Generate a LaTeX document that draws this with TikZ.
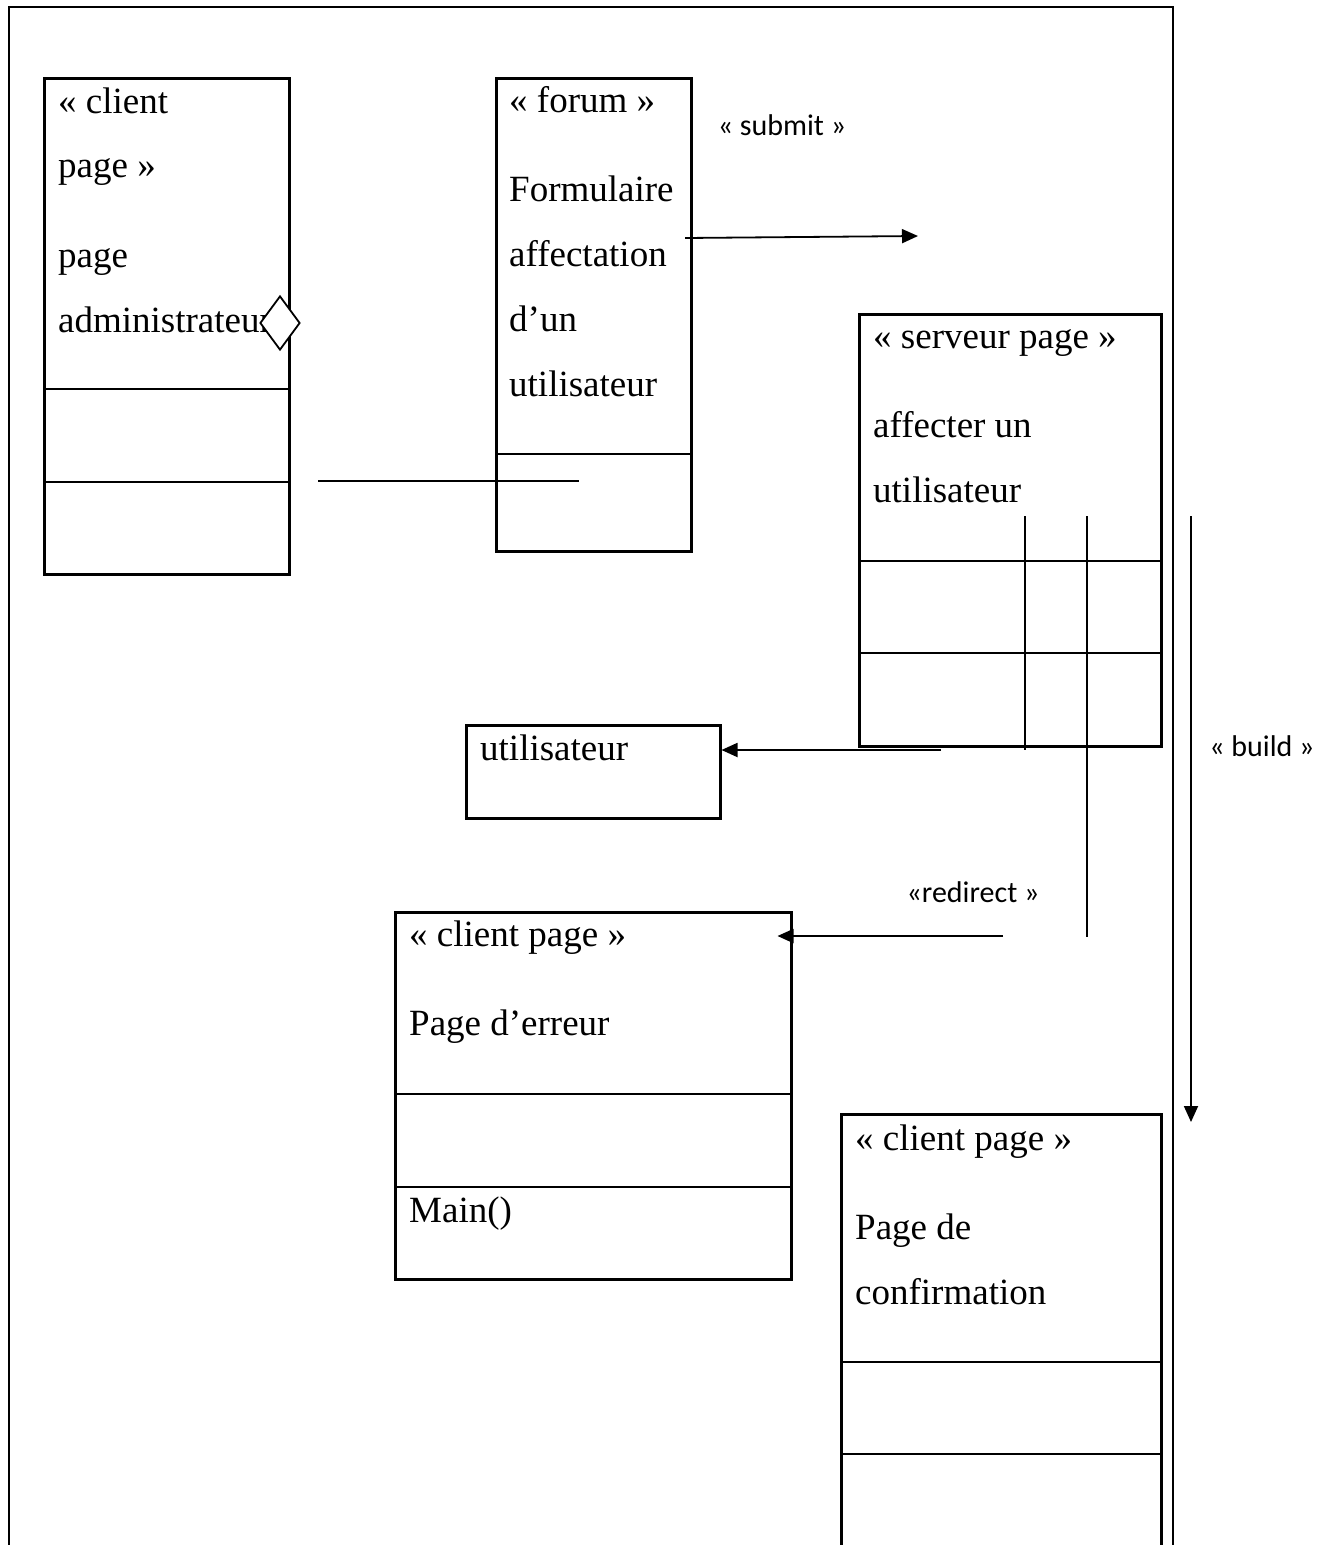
\documentclass[tikz,border=0pt]{standalone}
\usepackage{fontspec}
\setmainfont{Liberation Serif}
\newfontfamily\labelfont{Carlito}
\usetikzlibrary{shapes.geometric,arrows.meta,positioning,calc}

\tikzset{
  umlbox/.style={draw, line width=2.5pt, inner sep=0pt, anchor=north west},
  umltext/.style={anchor=north west, inner sep=0pt, align=left, font=\fontsize{37}{64.7}\selectfont},
  stereo/.style={font=\labelfont\fontsize{30}{34}\selectfont, inner sep=0pt},
  sep/.style={line width=2.5pt},
  conn/.style={line width=1.8pt},
  arrowline/.style={conn, -{Triangle[length=16pt,width=14pt]}},
}
\newcommand{\topstrut}{\rule{0pt}{28pt}}

\begin{document}
\begin{tikzpicture}[x=1pt, y=-1pt]
  \useasboundingbox (0,0) rectangle (1329,1545);
  % cadre
  \draw[line width=2.5pt] (9,1560) -- (9,7) -- (1173,7) -- (1173,1560);

  % page administrateur
  \node (admin) [umlbox, minimum width=245pt, minimum height=496pt] at (43,77) {};
  \node (adminT) [umltext] at (58,85) {\topstrut« client\\page »\\[25pt]page\\administrateur};
  \draw[sep] ($(admin.north west)+(0,312)$) -- ($(admin.north east)+(0,312)$);
  \draw[sep] ($(admin.north west)+(0,405)$) -- ($(admin.north east)+(0,405)$);
  \node (agg) [diamond, draw, fill=white, line width=1.8pt, minimum width=40pt, minimum height=54pt, inner sep=0pt] at (280,323) {};

  % formulaire
  \node (forum) [umlbox, minimum width=195pt, minimum height=473pt] at (495,77) {};
  \node (forumT) [umltext] at (509,84) {\topstrut« forum »\\[25pt]Formulaire\\affectation\\d’un\\utilisateur};
  \draw[sep] ($(forum.north west)+(0,377)$) -- ($(forum.north east)+(0,377)$);

  % serveur page
  \node (serveur) [umlbox, minimum width=302pt, minimum height=432pt] at (858,313) {};
  \node (serveurT) [umltext] at (873,320) {\topstrut« serveur page »\\[25pt]affecter un\\utilisateur};
  \draw[sep] ($(serveur.north west)+(0,248)$) -- ($(serveur.north east)+(0,248)$);
  \draw[sep] ($(serveur.north west)+(0,340)$) -- ($(serveur.north east)+(0,340)$);

  % utilisateur
  \node (user) [umlbox, minimum width=254pt, minimum height=93pt] at (465,724) {};
  \node (userT) [umltext] at (480,732) {\topstrut utilisateur};

  % page d'erreur
  \node (erreur) [umlbox, minimum width=396pt, minimum height=367pt] at (394,911) {};
  \node (erreurT) [umltext] at (409,918) {\topstrut« client page »\\[25pt]Page d’erreur};
  \draw[sep] ($(erreur.north west)+(0,183)$) -- ($(erreur.north east)+(0,183)$);
  \draw[sep] ($(erreur.north west)+(0,276)$) -- ($(erreur.north east)+(0,276)$);
  \node (mainT) [umltext] at (409,1194) {\topstrut Main()};

  % page de confirmation
  \node (confirm) [umlbox, minimum width=320pt, minimum height=460pt] at (840,1113) {};
  \node (confirmT) [umltext] at (855,1122) {\topstrut« client page »\\[25pt]Page de\\confirmation};
  \draw[sep] ($(confirm.north west)+(0,249)$) -- ($(confirm.north east)+(0,249)$);
  \draw[sep] ($(confirm.north west)+(0,341)$) -- ($(confirm.north east)+(0,341)$);

  % liens
  \coordinate (submitS) at (685,238);
  \coordinate (submitE) at (918,236);
  \draw[arrowline] (submitS) -- (submitE);
  \node (submit) [stereo] at (782,125) {« submit »};

  \coordinate (linkS) at (318,481);
  \coordinate (linkE) at (579,481);
  \draw[conn] (linkS) -- (linkE);

  \coordinate (v1a) at (1025,516);
  \coordinate (v1b) at (1025,750);
  \coordinate (v2a) at (1087,516);
  \coordinate (v2b) at (1087,937);
  \draw[conn] (v1a) -- (v1b);
  \draw[conn] (v2a) -- (v2b);

  \coordinate (buildS) at (1191,516);
  \coordinate (buildE) at (1191,1122);
  \draw[arrowline] (buildS) -- (buildE);
  \node (build) [stereo] at (1262,746) {« build »};

  \coordinate (userS) at (941,750);
  \draw[arrowline] (userS) -- (userS -| user.east);

  \coordinate (redirS) at (1003,936);
  \draw[arrowline] (redirS) -- ($(redirS -| erreur.east)+(-15,0)$);
  \node (redirect) [stereo] at (973,892) {«redirect »};
\end{tikzpicture}
\end{document}
